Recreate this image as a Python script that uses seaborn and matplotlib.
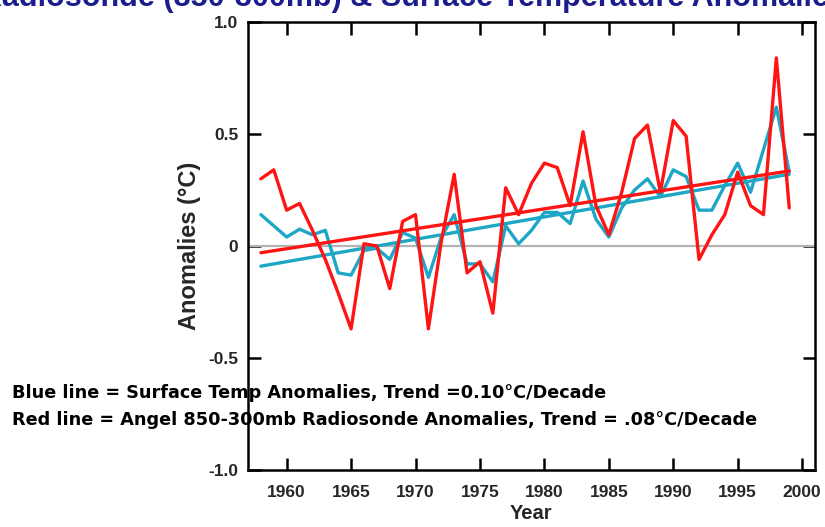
import numpy as np
import pandas as pd
import matplotlib
matplotlib.use("Agg")
import matplotlib.pyplot as plt
import seaborn as sns

years = list(range(1958, 2000))
surface = [0.14, 0.09, 0.04, 0.075, 0.05, 0.07, -0.12, -0.13, -0.02, -0.01,
           -0.06, 0.06, 0.035, -0.14, 0.04, 0.14, -0.08, -0.08, -0.16, 0.09,
           0.01, 0.07, 0.15, 0.15, 0.10, 0.29, 0.12, 0.04, 0.17, 0.25,
           0.30, 0.22, 0.34, 0.31, 0.16, 0.16, 0.27, 0.37, 0.24, 0.43,
           0.62, 0.33]
radiosonde = [0.30, 0.34, 0.16, 0.19, 0.07, -0.06, -0.21, -0.37, 0.01, 0.00,
              -0.19, 0.11, 0.14, -0.37, 0.02, 0.32, -0.12, -0.07, -0.30, 0.26,
              0.14, 0.28, 0.37, 0.35, 0.18, 0.51, 0.18, 0.05, 0.24, 0.48,
              0.54, 0.24, 0.56, 0.49, -0.06, 0.05, 0.14, 0.33, 0.18, 0.14,
              0.84, 0.17]
trend_years = [1958, 1999]
surface_trend = [-0.09, 0.32]
radiosonde_trend = [-0.03, 0.335]

x_ticks = [1960, 1965, 1970, 1975, 1980, 1985, 1990, 1995, 2000]
y_ticks = [-1.0, -0.5, 0.0, 0.5, 1.0]
y_tick_labels = ["-1.0", "-0.5", "0", "0.5", "1.0"]

title = "Radiosonde (850-300mb) & Surface Temperature Anomalies"
note_blue = "Blue line = Surface Temp Anomalies, Trend =0.10\u00b0C/Decade"
note_red = "Red line = Angel 850-300mb Radiosonde Anomalies, Trend = .08\u00b0C/Decade"

sns.set_style("ticks")
FONT = ["Liberation Sans", "DejaVu Sans"]
plt.rcParams["font.family"] = FONT
plt.rcParams["font.weight"] = "bold"

BLUE = "#1ea6c6"
RED = "#ff1414"

df = pd.DataFrame({"Year": years, "surface": surface, "radiosonde": radiosonde})
tr = pd.DataFrame({"Year": trend_years, "surface": surface_trend, "radiosonde": radiosonde_trend})

fig = plt.figure(figsize=(8.25, 5.27), dpi=100)
ax = fig.add_axes([248 / 825, 1 - 470 / 527, (815 - 248) / 825, (470 - 22) / 527])

ax.axhline(0, color="#b4b4b4", lw=1.6, zorder=1)
sns.lineplot(data=df, x="Year", y="surface", ax=ax, color=BLUE, lw=2.4, zorder=3)
sns.lineplot(data=tr, x="Year", y="surface", ax=ax, color=BLUE, lw=2.4, zorder=4)
sns.lineplot(data=df, x="Year", y="radiosonde", ax=ax, color=RED, lw=2.4, zorder=5)
sns.lineplot(data=tr, x="Year", y="radiosonde", ax=ax, color=RED, lw=2.4, zorder=6)

ax.set_xlim(1957, 2001)
ax.set_ylim(-1.0, 1.0)
ax.set_xticks(x_ticks)
ax.set_yticks(y_ticks)
ax.set_yticklabels(y_tick_labels)
ax.tick_params(direction="in", length=9, width=1.8, top=True, right=True,
               labelsize=12.5, color="black")
ax.tick_params(axis="x", pad=11)
ax.tick_params(axis="y", pad=7)
for lab in ax.get_xticklabels() + ax.get_yticklabels():
    lab.set_fontweight("bold")
for s in ax.spines.values():
    s.set_linewidth(1.8)
    s.set_color("black")

ax.set_xlabel("Year", fontsize=14.5, fontweight="bold", labelpad=3)
ax.set_ylabel("Anomalies (\u00b0C)", fontsize=17, fontweight="bold", labelpad=5)

fig.text(0.5, 1.003, title, ha="center", va="center", fontsize=22,
         fontweight="bold", color="#1c1c8c")
fig.text(12 / 825, 1 - 393 / 527, note_blue, ha="left", va="center",
         fontsize=12.7, fontweight="bold", color="black", family="DejaVu Sans")
fig.text(12 / 825, 1 - 420 / 527, note_red, ha="left", va="center",
         fontsize=12.7, fontweight="bold", color="black", family="DejaVu Sans")

fig.savefig("out.png", dpi=100, facecolor="white")
